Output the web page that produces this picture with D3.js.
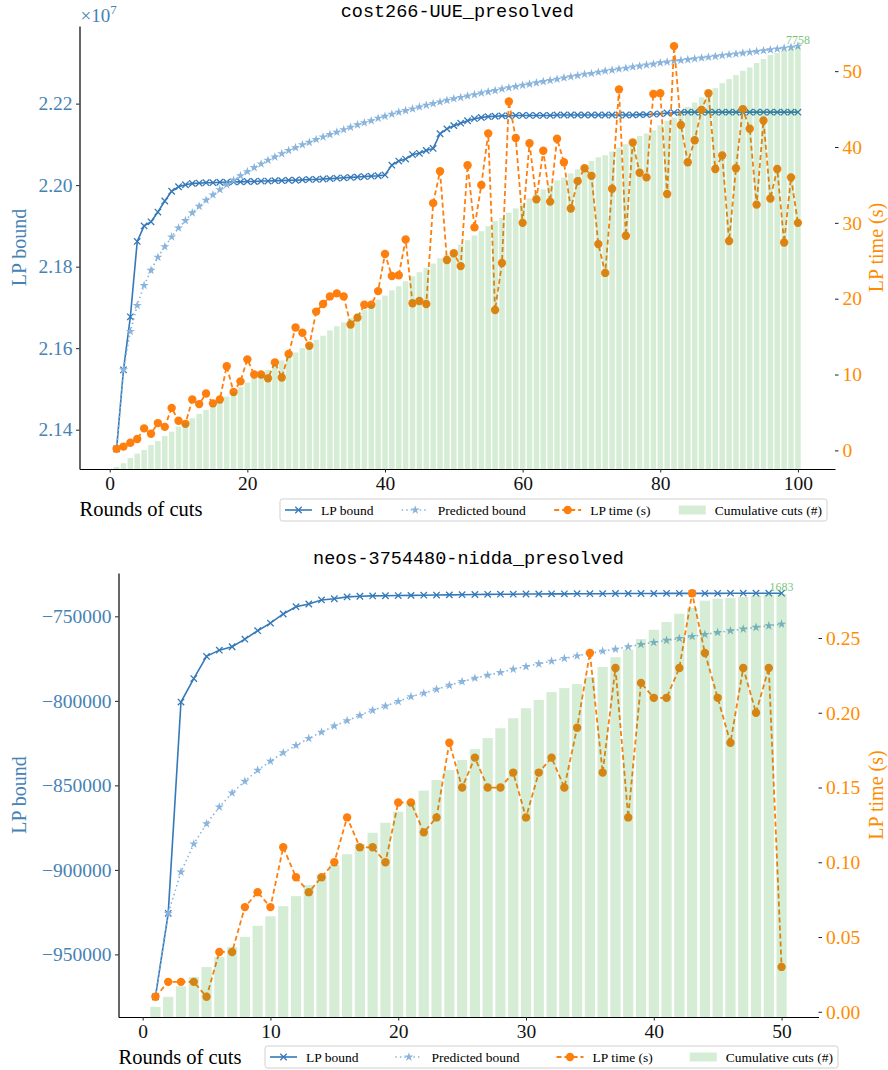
<!DOCTYPE html>
<html>
<head>
<meta charset="utf-8">
<script src="https://cdn.jsdelivr.net/npm/d3@7"></script>
<style>
body { margin: 0; background: #fff; }
svg { display: block; }
</style>
</head>
<body>
<svg id="fig" width="888" height="1070"></svg>
<script>
// cost266-UUE_presolved, LP bound values in units of 1e7
const costLpBound = [
  2.1353, 2.1547, 2.1677, 2.1862, 2.1900, 2.1910, 2.1934, 2.1961, 2.1985, 2.1996,
  2.2001, 2.2004, 2.2005, 2.2006, 2.2006, 2.2007, 2.2007, 2.2008, 2.2008, 2.2009,
  2.2009, 2.2010, 2.2010, 2.2011, 2.2011, 2.2012, 2.2012, 2.2013, 2.2014, 2.2014,
  2.2015, 2.2016, 2.2017, 2.2018, 2.2019, 2.2020, 2.2021, 2.2022, 2.2023, 2.2025,
  2.2049, 2.2059, 2.2064, 2.2075, 2.2078, 2.2085, 2.2090, 2.2126, 2.2138, 2.2146,
  2.2152, 2.2158, 2.2163, 2.2166, 2.2168, 2.2169, 2.2170, 2.2170, 2.2171, 2.2171,
  2.2171, 2.2171, 2.2171, 2.2171, 2.2172, 2.2172, 2.2172, 2.2172, 2.2172, 2.2172,
  2.2172, 2.2172, 2.2172, 2.2172, 2.2172, 2.2172, 2.2173, 2.2173, 2.2174, 2.2175,
  2.2177, 2.2178, 2.2179, 2.2179, 2.2179, 2.2179, 2.2179, 2.2179, 2.2179, 2.2179,
  2.2179, 2.2179, 2.2179, 2.2179, 2.2179, 2.2179, 2.2179, 2.2179, 2.2179, 2.2179
];
const costPredBound = [
  2.1353, 2.1547, 2.1641, 2.1705, 2.1754, 2.1791, 2.1823, 2.1849, 2.1873, 2.1895,
  2.1913, 2.1932, 2.1948, 2.1963, 2.1976, 2.1989, 2.2001, 2.2012, 2.2023, 2.2033,
  2.2043, 2.2052, 2.2061, 2.2069, 2.2077, 2.2085, 2.2092, 2.2099, 2.2105, 2.2112,
  2.2118, 2.2124, 2.2130, 2.2136, 2.2142, 2.2148, 2.2153, 2.2158, 2.2164, 2.2169,
  2.2174, 2.2179, 2.2183, 2.2187, 2.2192, 2.2196, 2.2200, 2.2204, 2.2208, 2.2212,
  2.2215, 2.2219, 2.2222, 2.2226, 2.2229, 2.2232, 2.2236, 2.2239, 2.2242, 2.2245,
  2.2248, 2.2251, 2.2254, 2.2257, 2.2260, 2.2263, 2.2266, 2.2269, 2.2272, 2.2274,
  2.2277, 2.2280, 2.2282, 2.2285, 2.2287, 2.2290, 2.2292, 2.2295, 2.2297, 2.2300,
  2.2302, 2.2304, 2.2306, 2.2308, 2.2310, 2.2312, 2.2314, 2.2316, 2.2318, 2.2320,
  2.2322, 2.2324, 2.2326, 2.2328, 2.2330, 2.2332, 2.2334, 2.2336, 2.2338, 2.2341
];
const costLpTime = [
  0.2, 0.5, 1.0, 1.5, 2.9, 2.2, 3.6, 3.1, 5.6, 3.9,
  3.5, 6.7, 6.1, 7.5, 6.2, 6.7, 11.1, 7.7, 9.1, 12.0,
  10.0, 10.0, 9.5, 11.6, 9.6, 12.7, 16.2, 15.5, 13.8, 18.3,
  19.3, 20.3, 20.7, 20.3, 16.6, 17.5, 19.2, 19.2, 21.0, 25.9,
  23.0, 23.1, 27.8, 19.4, 19.7, 19.3, 32.6, 36.8, 25.1, 26.0,
  24.3, 37.6, 29.4, 35.0, 41.8, 18.5, 24.7, 46.0, 41.2, 30.0,
  40.5, 33.1, 39.5, 32.8, 41.1, 38.0, 31.9, 35.5, 37.2, 36.2,
  27.2, 23.4, 34.5, 47.6, 28.3, 40.6, 36.6, 36.0, 47.0, 47.1,
  33.8, 53.3, 42.9, 38.0, 40.9, 44.9, 47.1, 37.1, 38.9, 27.6,
  37.2, 45.0, 42.4, 32.4, 43.5, 33.2, 37.1, 27.4, 36.0, 30.0
];
const costCumCuts = [
  37, 105, 203, 282, 350, 442, 516, 608, 687, 780,
  853, 934, 1014, 1087, 1161, 1240, 1332, 1414, 1506, 1590,
  1672, 1751, 1825, 1917, 1996, 2070, 2143, 2225, 2298, 2377,
  2451, 2549, 2623, 2696, 2777, 2857, 2930, 3023, 3115, 3188,
  3286, 3360, 3452, 3544, 3618, 3699, 3778, 3876, 3944, 4023,
  4128, 4208, 4294, 4373, 4466, 4558, 4620, 4712, 4792, 4878,
  4976, 5068, 5142, 5221, 5308, 5357, 5437, 5511, 5584, 5664,
  5732, 5769, 5837, 5911, 5971, 6051, 6124, 6168, 6229, 6321,
  6401, 6463, 6555, 6659, 6740, 6832, 6954, 7003, 7096, 7169,
  7243, 7322, 7385, 7464, 7538, 7612, 7648, 7691, 7722, 7758
];

// neos-3754480-nidda_presolved
const neosLpBound = [
  -975100, -925700, -800700, -786800, -773700, -770000, -768000, -763500, -758500, -754000,
  -748600, -744300, -742700, -740300, -739600, -738500, -738100, -737900, -737800, -737700,
  -737600, -737500, -737400, -737300, -737200, -737100, -737000, -736900, -736900, -736800,
  -736800, -736700, -736700, -736600, -736600, -736600, -736500, -736500, -736500, -736500,
  -736400, -736400, -736400, -736400, -736400, -736300, -736300, -736300, -736300, -736300
];
const neosPredBound = [
  -975100, -925700, -901300, -884700, -872700, -862800, -854500, -847600, -841000, -835700,
  -830700, -826400, -822200, -818500, -814900, -811700, -808600, -805600, -803100, -800400,
  -797500, -795500, -793200, -790800, -788600, -786600, -784800, -783200, -781300, -779700,
  -778100, -776500, -774900, -773400, -771800, -770600, -769400, -768000, -766600, -765400,
  -764200, -763100, -761900, -760700, -759500, -758500, -757500, -756500, -755600, -754600
];
const neosLpTime = [
  0.01, 0.02, 0.02, 0.02, 0.01, 0.04, 0.04, 0.07, 0.08, 0.07,
  0.11, 0.09, 0.08, 0.09, 0.10, 0.13, 0.11, 0.11, 0.10, 0.14,
  0.14, 0.12, 0.13, 0.18, 0.15, 0.17, 0.15, 0.15, 0.16, 0.13,
  0.16, 0.17, 0.15, 0.19, 0.24, 0.16, 0.23, 0.13, 0.22, 0.21,
  0.21, 0.23, 0.28, 0.24, 0.21, 0.18, 0.23, 0.20, 0.23, 0.03
];
const neosCumCuts = [
  40, 80, 122, 159, 199, 239, 279, 319, 363, 401,
  441, 481, 525, 565, 605, 648, 688, 733, 773, 817,
  851, 901, 943, 983, 1023, 1066, 1110, 1149, 1189, 1229,
  1262, 1293, 1309, 1325, 1353, 1393, 1432, 1462, 1504, 1541,
  1572, 1605, 1628, 1657, 1665, 1668, 1672, 1677, 1681, 1683
];

const legendLabels = ["LP bound", "Predicted bound", "LP time (s)", "Cumulative cuts (#)"];
const costBoundTicks = [2.14, 2.16, 2.18, 2.20, 2.22];
const costTimeTicks = [0, 10, 20, 30, 40, 50];
const costRoundTicks = [0, 20, 40, 60, 80, 100];
const neosBoundTicks = [-950000, -900000, -850000, -800000, -750000];
const neosTimeTicks = [0, 0.05, 0.10, 0.15, 0.20, 0.25];
const neosRoundTicks = [0, 10, 20, 30, 40, 50];

const C_BOUND = "#3579b8", C_PRED = "#89b4dc", C_TIME = "#ff7f0e";
const C_TICKBLUE = "#4682b4", C_TICKORANGE = "#ff8c00";
const SERIF = "'Liberation Serif', 'Times New Roman', serif";
const MONO = "'Liberation Mono', 'DejaVu Sans Mono', monospace";

const svg = d3.select("#fig");
const xMark = "M-3.2,-3.2L3.2,3.2M-3.2,3.2L3.2,-3.2";
const star = d3.symbol(d3.symbolStar, 26)();

function pad5(lo, hi) { const m = (hi - lo) * 0.05; return [lo - m, hi + m]; }

function styleAxis(g, color) {
  g.selectAll("text").attr("fill", color).style("font-family", SERIF).style("font-size", "19.5px");
  g.selectAll(".tick line").attr("stroke", "#222");
}

function drawPanel(cfg) {
  const n = cfg.bound.length;
  const rounds = d3.range(1, n + 1);
  const b = cfg.box;
  const g = svg.append("g");

  const x = d3.scaleLinear().domain(pad5(0.6, n + 0.4)).range([b.l, b.r]);
  const both = cfg.bound.concat(cfg.pred);
  const yB = d3.scaleLinear().domain(pad5(d3.min(both), d3.max(both))).range([b.b, b.t]);
  const yT = d3.scaleLinear().domain(pad5(d3.min(cfg.time), d3.max(cfg.time))).range([b.b, b.t]);
  const yC = d3.scaleLinear().domain([0, d3.max(cfg.cuts) * 1.05]).range([b.b, b.t]);

  // title
  g.append("text").attr("x", (b.l + b.r) / 2).attr("y", b.t - 9)
    .attr("text-anchor", "middle").style("font-family", MONO).style("font-size", "18.5px")
    .text(cfg.title);

  // axes
  const ax = g.append("g").attr("transform", `translate(0,${b.b})`)
    .call(d3.axisBottom(x).tickValues(cfg.xTicks).tickSize(3.5).tickSizeOuter(0).tickPadding(4).tickFormat(d3.format("d")));
  styleAxis(ax, "#111");
  ax.select(".domain").attr("stroke", "#000").attr("stroke-width", 1.2);

  const ayl = g.append("g").attr("transform", `translate(${b.l},0)`)
    .call(d3.axisLeft(yB).tickValues(cfg.yTicks).tickSize(3.5).tickSizeOuter(0).tickPadding(3.5).tickFormat(cfg.yFmt));
  styleAxis(ayl, C_TICKBLUE);
  ayl.select(".domain").attr("stroke", "#000").attr("stroke-width", 1.2);

  const ayr = g.append("g").attr("transform", `translate(${b.r},0)`)
    .call(d3.axisRight(yT).tickValues(cfg.tTicks).tickSize(3.5).tickSizeOuter(0).tickPadding(4).tickFormat(cfg.tFmt));
  styleAxis(ayr, C_TICKORANGE);
  ayr.select(".domain").remove();

  if (cfg.offsetText) {
    const t = g.append("text").attr("x", b.l + 1).attr("y", b.t - 4)
      .attr("fill", C_TICKBLUE).style("font-family", SERIF).style("font-size", "19px");
    t.append("tspan").text("×10");
    t.append("tspan").attr("dy", -8).style("font-size", "13px").text(cfg.offsetText);
  }

  // axis labels
  g.append("text").attr("transform", `translate(26,${(b.t + b.b) / 2}) rotate(-90)`)
    .attr("text-anchor", "middle").attr("fill", C_TICKBLUE)
    .style("font-family", SERIF).style("font-size", "20px").text("LP bound");
  g.append("text").attr("transform", `translate(883,${(b.t + b.b) / 2}) rotate(-90)`)
    .attr("text-anchor", "middle").attr("fill", C_TICKORANGE)
    .style("font-family", SERIF).style("font-size", "20px").text("LP time (s)");
  g.append("text").attr("x", b.l).attr("y", b.b + 47)
    .style("font-family", SERIF).style("font-size", "20.5px").text("Rounds of cuts");

  // series
  const lineB = d3.line().x((d, i) => x(rounds[i])).y(d => yB(d));
  g.append("path").datum(cfg.bound).attr("d", lineB).attr("fill", "none")
    .attr("stroke", C_BOUND).attr("stroke-width", 1.6);
  g.append("g").selectAll("path").data(cfg.bound).join("path")
    .attr("transform", (d, i) => `translate(${x(rounds[i])},${yB(d)})`)
    .attr("d", xMark).attr("stroke", C_BOUND).attr("stroke-width", 1.3).attr("fill", "none");

  g.append("path").datum(cfg.pred).attr("d", lineB).attr("fill", "none")
    .attr("stroke", C_PRED).attr("stroke-width", 1.6).attr("stroke-dasharray", "1.5,3");
  g.append("g").selectAll("path").data(cfg.pred).join("path")
    .attr("transform", (d, i) => `translate(${x(rounds[i])},${yB(d)})`)
    .attr("d", star).attr("fill", C_PRED);

  const lineT = d3.line().x((d, i) => x(rounds[i])).y(d => yT(d));
  g.append("path").datum(cfg.time).attr("d", lineT).attr("fill", "none")
    .attr("stroke", C_TIME).attr("stroke-width", 1.8).attr("stroke-dasharray", "5,3");
  g.append("g").selectAll("circle").data(cfg.time).join("circle")
    .attr("cx", (d, i) => x(rounds[i])).attr("cy", d => yT(d)).attr("r", 4.2).attr("fill", C_TIME);

  // cumulative cuts bars drawn on top
  g.append("g").selectAll("rect").data(cfg.cuts).join("rect")
    .attr("x", (d, i) => x(rounds[i] - 0.4)).attr("width", x(0.8) - x(0))
    .attr("y", d => yC(d)).attr("height", d => yC(0) - yC(d))
    .attr("fill", "#2ca02c").attr("fill-opacity", 0.2);
  g.append("text").attr("x", x(n)).attr("y", yC(cfg.cuts[n - 1]) - 3)
    .attr("text-anchor", "middle").attr("fill", "#5cb85c").attr("fill-opacity", 0.85)
    .style("font-family", SERIF).style("font-size", "12px").text(cfg.cuts[n - 1]);

  // legend
  const L = cfg.legend;
  const lg = g.append("g");
  lg.append("rect").attr("x", L.x0).attr("y", L.y0).attr("width", L.x1 - L.x0).attr("height", 22)
    .attr("rx", 2.5).attr("fill", "#fff").attr("fill-opacity", 0.8).attr("stroke", "#d0d0d0");
  const cy = L.y0 + 11, hw = 27, tp = 9;
  const texts = legendLabels.map(s => lg.append("text").attr("y", cy + 4.5)
    .style("font-family", SERIF).style("font-size", "13.5px").text(s));
  const widths = texts.map(t => t.node().getComputedTextLength());
  const used = d3.sum(widths) + legendLabels.length * (hw + tp);
  const m = 5, gap = (L.x1 - L.x0 - 2 * m - used) / (legendLabels.length - 1);
  let hx = L.x0 + m;
  legendLabels.forEach((s, i) => {
    const mid = hx + hw / 2;
    if (i === 3) {
      lg.append("rect").attr("x", hx).attr("y", cy - 4.5).attr("width", hw).attr("height", 9)
        .attr("fill", "#2ca02c").attr("fill-opacity", 0.2);
    } else {
      const col = [C_BOUND, C_PRED, C_TIME][i];
      lg.append("line").attr("x1", hx).attr("x2", hx + hw).attr("y1", cy).attr("y2", cy)
        .attr("stroke", col).attr("stroke-width", [1.6, 1.6, 1.8][i])
        .attr("stroke-dasharray", [null, "1.5,3", "5,3"][i]);
      if (i === 0) lg.append("path").attr("d", xMark).attr("transform", `translate(${mid},${cy})`)
        .attr("stroke", col).attr("stroke-width", 1.3).attr("fill", "none");
      if (i === 1) lg.append("path").attr("d", star).attr("transform", `translate(${mid},${cy})`).attr("fill", col);
      if (i === 2) lg.append("circle").attr("cx", mid).attr("cy", cy).attr("r", 4.2).attr("fill", col);
    }
    texts[i].attr("x", hx + hw + tp);
    hx += hw + tp + widths[i] + gap;
  });
}

drawPanel({
  title: "cost266-UUE_presolved",
  box: { l: 79.5, r: 835, t: 26, b: 469 },
  bound: costLpBound, pred: costPredBound, time: costLpTime, cuts: costCumCuts,
  xTicks: costRoundTicks, yTicks: costBoundTicks, yFmt: d3.format(".2f"),
  tTicks: costTimeTicks, tFmt: d3.format("d"), offsetText: "7",
  legend: { x0: 280, x1: 827, y0: 499 }
});

drawPanel({
  title: "neos-3754480-nidda_presolved",
  box: { l: 118.5, r: 818.5, t: 573, b: 1017 },
  bound: neosLpBound, pred: neosPredBound, time: neosLpTime, cuts: neosCumCuts,
  xTicks: neosRoundTicks, yTicks: neosBoundTicks, yFmt: d => d3.format("d")(d).replace("-", "\u2212"),
  tTicks: neosTimeTicks, tFmt: d3.format(".2f"), offsetText: null,
  legend: { x0: 265, x1: 838, y0: 1046 }
});
</script>
</body>
</html>
